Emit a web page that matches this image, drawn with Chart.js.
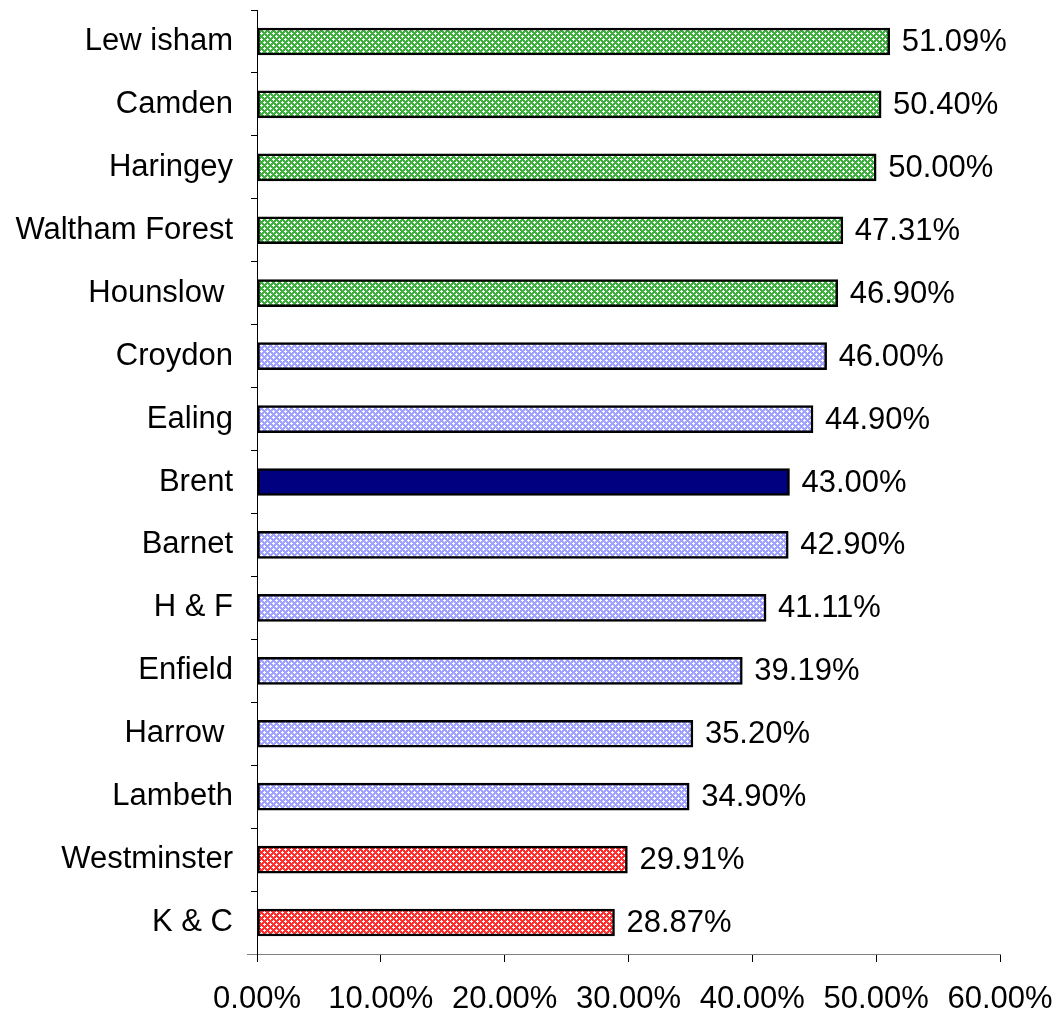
<!DOCTYPE html>
<html>
<head>
<meta charset="utf-8">
<script src="https://cdn.jsdelivr.net/npm/chart.js@4/dist/chart.umd.min.js"></script>
<style>
html,body{margin:0;padding:0;background:#fff;}
#wrap{width:1061px;height:1014px;position:relative;}
</style>
</head>
<body>
<div id="wrap"><canvas id="c" width="1061" height="1014"></canvas></div>
<script>
const categories = ["Lew isham","Camden","Haringey","Waltham Forest","Hounslow ","Croydon","Ealing","Brent","Barnet","H & F","Enfield","Harrow ","Lambeth","Westminster","K & C"];
const values = [51.09,50.40,50.00,47.31,46.90,46.00,44.90,43.00,42.90,41.11,39.19,35.20,34.90,29.91,28.87];
const groups = ["high","high","high","high","high","mid","mid","brent","mid","mid","mid","mid","mid","low","low"];
const xTicks = [0,10,20,30,40,50,60];

function makePattern(base){
  const t = document.createElement('canvas');
  t.width = 6; t.height = 6;
  const g = t.getContext('2d');
  g.fillStyle = base; g.fillRect(0,0,6,6);
  g.fillStyle = '#ffffff';
  const pts = [[0,0],[3,3]];
  pts.forEach(([x,y])=>{
    [[0,0],[1,0],[-1,0],[0,1],[0,-1]].forEach(([dx,dy])=>{
      g.fillRect((x+dx+6)%6,(y+dy+6)%6,1,1);
    });
  });
  return g.createPattern(t,'repeat');
}
const fills = {
  high: makePattern('#3fb03f'),
  mid: makePattern('#a0a2ff'),
  low: makePattern('#ff3030'),
  brent: '#000080'
};

const FONT = '"Liberation Sans", Arial, sans-serif';

const labelPlugin = {
  id:'valLabels',
  afterDatasetsDraw(chart){
    const ctx = chart.ctx;
    const meta = chart.getDatasetMeta(0);
    ctx.save();
    ctx.font = '31px ' + FONT;
    ctx.fillStyle = '#000';
    ctx.textAlign = 'left';
    ctx.textBaseline = 'middle';
    meta.data.forEach((bar,i)=>{
      ctx.fillText(values[i].toFixed(2)+'%', bar.x + 12, bar.y + 1);
    });
    // short extension of the x axis line to the left of the y axis
    const a = chart.chartArea;
    ctx.strokeStyle = '#808080';
    ctx.lineWidth = 1;
    ctx.beginPath();
    ctx.moveTo(a.left - 10, a.bottom + 0.5);
    ctx.lineTo(a.left, a.bottom + 0.5);
    ctx.stroke();
    ctx.restore();
  }
};

new Chart(document.getElementById('c'),{
  type:'bar',
  data:{
    labels:categories,
    datasets:[{
      data:values,
      backgroundColor:groups.map(g=>fills[g]),
      borderColor:'#000',
      borderWidth:2.5,
      borderSkipped:false,
      barThickness:27
    }]
  },
  options:{
    indexAxis:'y',
    responsive:false,
    animation:false,
    devicePixelRatio:1,
    layout:{padding:{top:10,right:61,left:0,bottom:0}},
    plugins:{legend:{display:false},tooltip:{enabled:false}},
    scales:{
      x:{
        min:0,max:60,
        afterFit(s){ s.height = 60; s.paddingLeft = 0; s.paddingRight = 0; },
        afterBuildTicks(s){ s.ticks = xTicks.map(v=>({value:v})); },
        grid:{drawOnChartArea:false,drawTicks:true,tickLength:8,color:'#000'},
        border:{color:'#808080',width:1},
        ticks:{
          font:{family:FONT,size:31},
          color:'#000',
          padding:19,
          maxRotation:0,
          callback:(v)=>Number(v).toFixed(2)+'%'
        }
      },
      y:{
        afterFit(s){ s.width = 257; s.paddingTop = 0; s.paddingBottom = 0; },
        grid:{offset:true,drawOnChartArea:false,drawTicks:true,tickLength:6,color:'#000'},
        border:{color:'#000',width:1},
        ticks:{
          font:{family:FONT,size:31},
          color:'#000',
          padding:18
        }
      }
    }
  },
  plugins:[labelPlugin]
});
</script>
</body>
</html>
